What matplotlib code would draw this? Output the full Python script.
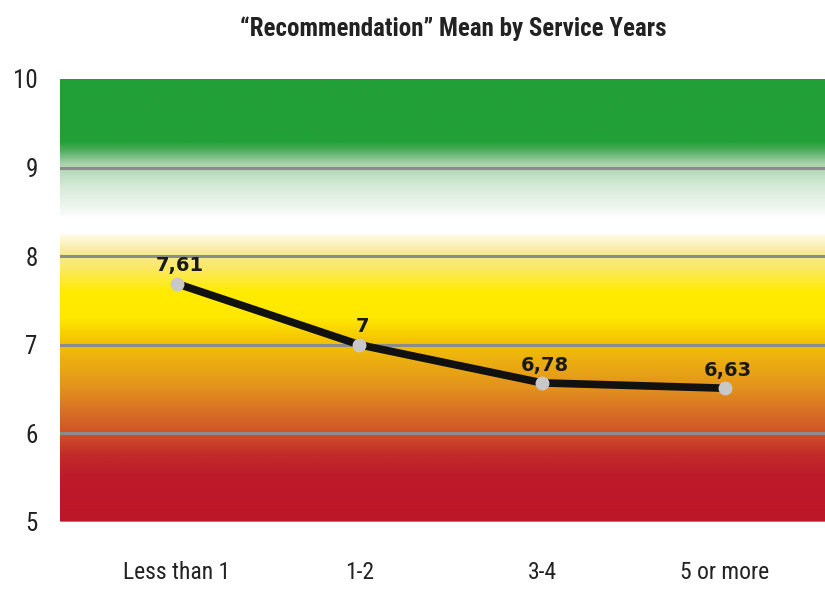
import numpy as np
import matplotlib
matplotlib.use("Agg")
import matplotlib.pyplot as plt
from matplotlib.colors import LinearSegmentedColormap, to_rgb
from matplotlib import font_manager

# -----------------------
# Data
# -----------------------
categories = ["Less than 1", "1-2", "3-4", "5 or more"]
plotted = [7.69, 7.0, 6.57, 6.51]          # where the points sit in the picture
labels = ["7,61", "7", "6,78", "6,63"]     # printed values
y_ticks = [5, 6, 7, 8, 9, 10]
title = "\u201cRecommendation\u201d Mean by Service Years"

# background colour stops (value, colour)
bg_stops = [
    (5.0, "#be1628"), (5.5, "#bd1a2a"), (5.75, "#c22a2a"), (6.0, "#cf5228"),
    (6.2, "#d76a26"), (6.5, "#e2911e"), (6.9, "#eeb60c"), (7.05, "#f4c400"),
    (7.3, "#ffe800"), (7.6, "#ffec00"), (7.85, "#fbe860"), (8.05, "#f8ea9a"),
    (8.24, "#fffbe6"), (8.26, "#ffffff"), (8.45, "#ffffff"), (8.47, "#f8fbf8"),
    (8.8, "#d4ead6"), (9.05, "#a8d2ac"), (9.2, "#4eac5c"), (9.3, "#22a038"),
    (10.0, "#22a038"),
]

# condensed face if there is one
names = {f.name for f in font_manager.fontManager.ttflist}
NARROW = ["DejaVu Sans"]
for cand in ["Liberation Sans Narrow", "Roboto Condensed", "Open Sans Condensed"]:
    if cand in names:
        NARROW = [cand, "DejaVu Sans"]
        break

fig = plt.figure(figsize=(8.25, 5.89), dpi=100)
ax = fig.add_axes([0.0727, 0.1138, 0.9273, 0.7521])

x = np.arange(len(categories))
xmin, xmax = -0.64, 3.55
ymin, ymax = 5, 10

# gradient background
pos = [(v - ymin) / (ymax - ymin) for v, _ in bg_stops]
cmap = LinearSegmentedColormap.from_list(
    "bg", list(zip(pos, [to_rgb(c) for _, c in bg_stops])), N=1024)
grad = np.linspace(ymin, ymax, 800).reshape(-1, 1)
ax.imshow(grad, cmap=cmap, aspect="auto", origin="lower",
          extent=[xmin, xmax, ymin, ymax], vmin=ymin, vmax=ymax,
          interpolation="bilinear", zorder=0)

# grid lines
for t in y_ticks[:-1]:
    ax.axhline(t, color="#8c8c8c", lw=2.2, zorder=1)

# the line
ax.plot(x, plotted, color="#111111", lw=5.5, zorder=2, solid_capstyle="round")
ax.plot(x, plotted, "o", color="#c8c8c8", ms=9, mec="#c8c8c8", zorder=3)

for xi, yi, lab in zip(x, plotted, labels):
    ax.annotate(lab, (xi, yi), xytext=(2, 6), textcoords="offset points",
                ha="center", va="bottom", fontsize=14, fontweight="bold",
                color="#1a1a1a", zorder=4)

ax.set_xlim(xmin, xmax)
ax.set_ylim(ymin, ymax)
ax.set_xticks(x)
ax.set_xticklabels(categories, fontsize=17, family=NARROW, stretch="condensed",
                   color="#222222")
ax.set_yticks(y_ticks)
ax.set_yticklabels([str(t) for t in y_ticks], fontsize=18, family=NARROW,
                   stretch="condensed", color="#222222")
ax.tick_params(axis="x", length=0, pad=28)
ax.tick_params(axis="y", length=0, pad=16)
for s in ax.spines.values():
    s.set_visible(False)

fig.text(0.549, 0.952, title, ha="center", va="center", fontsize=18,
         fontweight="bold", family=NARROW, stretch="condensed", color="#222222")

fig.savefig("out.png", dpi=100)
